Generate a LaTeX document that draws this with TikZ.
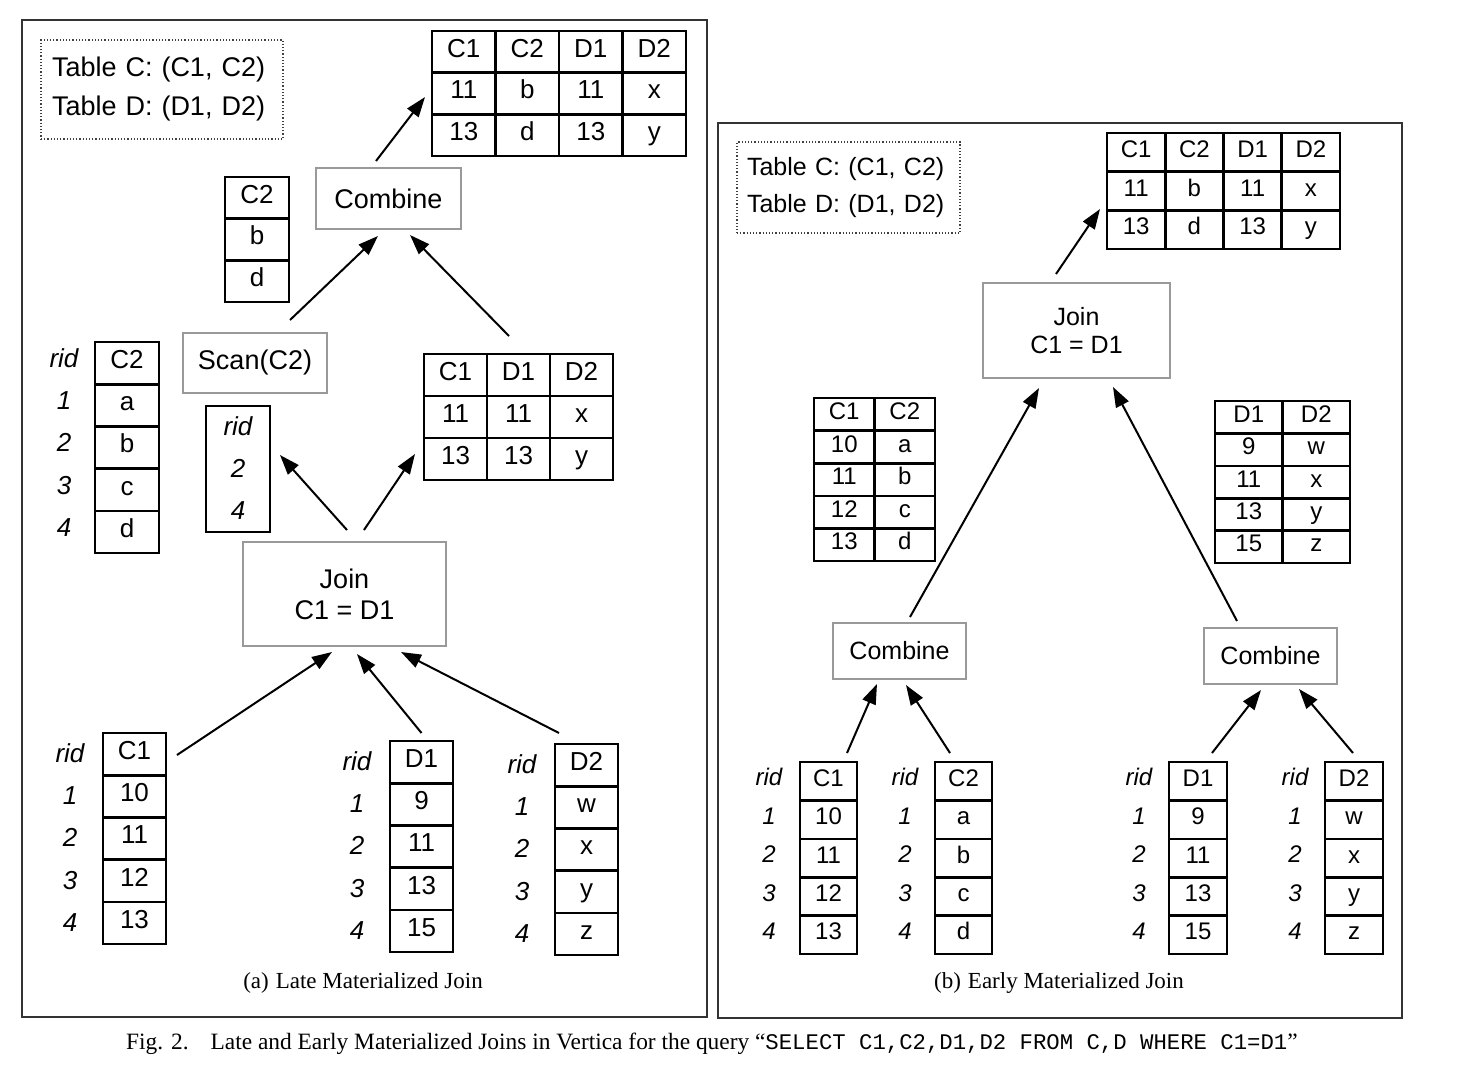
\documentclass[tikz,border=0pt]{standalone}
\usepackage{fontspec}
\setmainfont{Liberation Sans}
\newfontfamily\serifcap{Liberation Serif}
\newfontfamily\monocap{Liberation Mono}
\usetikzlibrary{arrows.meta,calc}
\newcommand\fs[1]{\fontsize{#1}{#1}\selectfont}
\newcommand\gtab[7]{%
  \foreach \rw [count=\ri] in {#7} {
    \foreach \cl [count=\ci] in \rw {
      \node[#1, minimum width=#5pt, minimum height=#6pt] (#2-\ri-\ci) at ({#3+(\ci-0.5)*#5},{#4+(\ri-0.5)*#6}) {\cl};
    }
  }
}
\newcommand\ridcol[6]{%
  \foreach \rl [count=\rk] in {rid,1,2,3,4} {
    \node[#1] (#2-\rk) at ({#3},{#4+(\rk-0.5)*#5+#6}) {\rl};
  }
}
\tikzset{
  cell/.style={draw=black, line width=2.6pt, inner sep=0pt, outer sep=0pt, anchor=center},
  cellL/.style={cell, font=\fs{26}, text height=18.6pt, text depth=8pt},
  cellR/.style={cell, font=\fs{24}, text height=17.2pt, text depth=7pt},
  ridL/.style={font=\itshape\fs{26}, inner sep=0pt, text height=18.6pt, text depth=0pt, anchor=center},
  ridR/.style={font=\itshape\fs{24}, inner sep=0pt, text height=17.2pt, text depth=0pt, anchor=center},
  opbox/.style={draw=black!40, line width=1.5pt, inner sep=0pt, outer sep=0pt, align=center},
  frame/.style={draw=black!80, line width=1.4pt, inner sep=0pt, outer sep=0pt},
  note/.style={draw=black!75, dotted, line width=1.2pt, inner sep=0pt, outer sep=0pt, align=left},
  arr/.style={line width=2pt, -{Triangle[length=20pt,width=14pt]}},
}
\begin{document}
\begin{tikzpicture}[x=1pt,y=-1pt]
\useasboundingbox[fill=white] (0,0) rectangle (1480,1082);

% ---------- frames ----------
\node[frame, minimum width=685pt, minimum height=997pt] (frameA) at (364.5,518.5) {};
\node[frame, minimum width=684pt, minimum height=895pt] (frameB) at (1060,570.5) {};

% ---------- (a) Late materialized ----------
\node[note, minimum width=242pt, minimum height=99pt, text width=220pt, font=\fontsize{27}{39}\selectfont] (noteA) at (162,89.5) {Table C: (C1, C2)\\Table D: (D1, D2)};

\gtab{cellL}{topA}{432}{31}{63.5}{41.7}{{C1,C2,D1,D2},{11,b,11,x},{13,d,13,y}}
\gtab{cellL}{c2sA}{225}{177}{64}{41.7}{{C2},{b},{d}}
\gtab{cellL}{c2A}{95}{342}{64}{42.2}{{C2},{a},{b},{c},{d}}
\ridcol{ridL}{ridc2A}{64}{342}{42.2}{-5}
\gtab{cellL}{midA}{424}{354}{63}{42}{{C1,D1,D2},{11,11,x},{13,13,y}}
\gtab{cellL}{c1A}{103}{733}{63}{42.2}{{C1},{10},{11},{12},{13}}
\ridcol{ridL}{ridc1A}{70}{733}{42.2}{-1}
\gtab{cellL}{d1A}{390}{741}{63}{42.2}{{D1},{9},{11},{13},{15}}
\ridcol{ridL}{ridd1A}{357}{741}{42.2}{-1}
\gtab{cellL}{d2A}{555}{744}{63}{42.2}{{D2},{w},{x},{y},{z}}
\ridcol{ridL}{ridd2A}{522}{744}{42.2}{-1}

\node[cell, minimum width=64pt, minimum height=126pt] (ridA) at (238,469) {};
\node[ridL] (ridA-1) at (238,426) {rid};
\node[ridL] (ridA-2) at (238,468) {2};
\node[ridL] (ridA-3) at (238,510) {4};

\node[opbox, minimum width=145pt, minimum height=61pt, font=\fs{27}] (combA) at (388.5,198.5) {Combine};
\node[opbox, minimum width=144pt, minimum height=60pt, font=\fs{27}] (scanA) at (255,363) {Scan(C2)};
\node[opbox, minimum width=203pt, minimum height=104pt, font=\fontsize{27}{31}\selectfont] (joinA) at (344.5,594) {Join\\C1 = D1};

\draw[arr] ([xshift=-12.5pt,yshift=7pt]combA.north) -- ([xshift=-7pt,yshift=-3.5pt]topA-2-1.west);
\draw[arr] ([xshift=35pt,yshift=13pt]scanA.north) -- ([xshift=-10.5pt,yshift=-7pt]combA.south);
\draw[arr] ([xshift=-9.5pt,yshift=18pt]midA-1-2.north) -- ([xshift=21.5pt,yshift=-6pt]combA.south);
\draw[arr] ([xshift=2.5pt,yshift=12pt]joinA.north) -- ([xshift=10pt,yshift=14pt]ridA.east);
\draw[arr] ([xshift=19.5pt,yshift=12pt]joinA.north) -- ([xshift=-9pt,yshift=26pt]midA-3-1.south west);
\draw[arr] ([xshift=11pt,yshift=-22pt]c1A-1-1.north east) -- ([xshift=-12.5pt,yshift=-6pt]joinA.south);
\draw[arr] ([yshift=8pt]d1A-1-1.north) -- ([xshift=12.5pt,yshift=-8pt]joinA.south);
\draw[arr] ([xshift=4pt,yshift=11pt]d2A-1-1.north west) -- ([xshift=56.5pt,yshift=-6pt]joinA.south);

\node[font=\serifcap\fs{23}, inner sep=0pt] (capA) at (363,983) {(a)\hspace{7pt}Late Materialized Join};

% ---------- (b) Early materialized ----------
\node[note, minimum width=223pt, minimum height=91pt, text width=203pt, font=\fontsize{25}{37}\selectfont] (noteB) at (848.5,187.5) {Table C: (C1, C2)\\Table D: (D1, D2)};

\gtab{cellR}{topB}{1107}{133}{58.25}{38.7}{{C1,C2,D1,D2},{11,b,11,x},{13,d,13,y}}
\gtab{cellR}{ccB}{814}{398}{60.5}{32.6}{{C1,C2},{10,a},{11,b},{12,c},{13,d}}
\gtab{cellR}{ddB}{1215}{401}{67.5}{32.4}{{D1,D2},{9,w},{11,x},{13,y},{15,z}}
\gtab{cellR}{c1B}{800}{762}{57}{38.4}{{C1},{10},{11},{12},{13}}
\ridcol{ridR}{ridc1B}{769}{762}{38.4}{-4}
\gtab{cellR}{c2B}{935}{762}{57}{38.4}{{C2},{a},{b},{c},{d}}
\ridcol{ridR}{ridc2B}{905}{762}{38.4}{-4}
\gtab{cellR}{d1B}{1169}{762}{58}{38.4}{{D1},{9},{11},{13},{15}}
\ridcol{ridR}{ridd1B}{1139}{762}{38.4}{-4}
\gtab{cellR}{d2B}{1325}{762}{58}{38.4}{{D2},{w},{x},{y},{z}}
\ridcol{ridR}{ridd2B}{1295}{762}{38.4}{-4}

\node[opbox, minimum width=187pt, minimum height=95pt, font=\fontsize{25}{28}\selectfont] (joinB) at (1076.5,330.5) {Join\\C1 = D1};
\node[opbox, minimum width=133pt, minimum height=56pt, font=\fs{25}] (combBL) at (899.5,651) {Combine};
\node[opbox, minimum width=133pt, minimum height=56pt, font=\fs{25}] (combBR) at (1270.5,656) {Combine};

\draw[arr] ([xshift=-20.5pt,yshift=9pt]joinB.north) -- ([xshift=-7pt,yshift=-18pt]topB-2-1.west);
\draw[arr] ([xshift=10.5pt,yshift=6pt]combBL.north) -- ([xshift=-37.5pt,yshift=-10pt]joinB.south);
\draw[arr] ([xshift=-33.5pt,yshift=7pt]combBR.north) -- ([xshift=36.5pt,yshift=-9pt]joinB.south);
\draw[arr] ([xshift=18.5pt,yshift=9pt]c1B-1-1.north) -- ([xshift=-22.5pt,yshift=-5pt]combBL.south);
\draw[arr] ([xshift=-13.5pt,yshift=9pt]c2B-1-1.north) -- ([xshift=6.5pt,yshift=-6pt]combBL.south);
\draw[arr] ([xshift=14pt,yshift=9pt]d1B-1-1.north) -- ([xshift=-9.5pt,yshift=-6pt]combBR.south);
\draw[arr] ([xshift=-1pt,yshift=9pt]d2B-1-1.north) -- ([xshift=28.5pt,yshift=-5pt]combBR.south);

\node[font=\serifcap\fs{23}, inner sep=0pt] (capB) at (1059,983) {(b)\hspace{7pt}Early Materialized Join};

% ---------- figure caption ----------
\node[font=\serifcap\fs{23.4}, inner sep=0pt, anchor=west] (figcap) at (126,1044) {Fig. 2.\hspace{22pt}Late and Early Materialized Joins in Vertica for the query “{\monocap\fs{22.3}SELECT C1,C2,D1,D2 FROM C,D WHERE C1=D1}”};
\end{tikzpicture}
\end{document}
